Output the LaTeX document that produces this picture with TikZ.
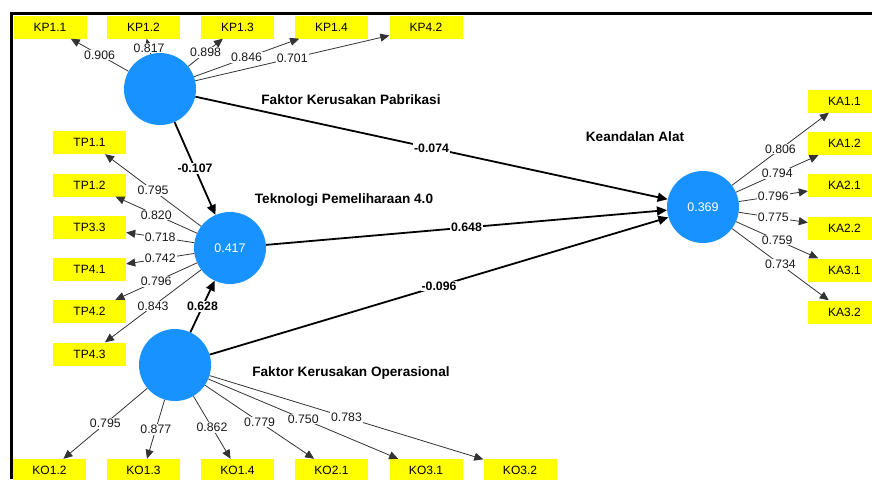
\documentclass[tikz,border=0pt]{standalone}
\usepackage{fontspec}
\setmainfont{Liberation Sans}
\usepackage{tikz}
\usetikzlibrary{arrows.meta}
\definecolor{lvblue}{RGB}{24,146,255}
\definecolor{indyellow}{RGB}{255,255,0}

\begin{document}
\begin{tikzpicture}[x=1pt, y=-1pt,
  lv/.style={circle, fill=lvblue, minimum size=72pt, inner sep=0pt,
             text=white, font=\fontsize{12.5}{14}\selectfont},
  ind/.style={rectangle, fill=indyellow, minimum width=73pt, minimum height=23pt,
              inner sep=0pt, font=\fontsize{12}{14}\selectfont},
  lvname/.style={inner sep=0pt, font=\fontsize{13.6}{15}\selectfont\bfseries},
  loadarr/.style={-{Triangle[length=9pt, width=8pt]}, draw=black!80, line width=0.8pt},
  innerarr/.style={-{Triangle[length=10pt, width=9pt]}, draw=black, line width=1.8pt},
  ldlbl/.style={fill=white, inner sep=1pt, text=black!90, font=\fontsize{12.3}{14}\selectfont},
  coeflbl/.style={fill=white, inner sep=1pt, font=\fontsize{12.3}{14}\selectfont\bfseries}
]
\clip (0,0) rectangle (872,479);
\draw[line width=3pt] (11.5,479) -- (11.5,13.5) -- (872,13.5);

\node[lv] (kp) at (160,89)  {};
\node[lv] (tp) at (230,248) {0.417};
\node[lv] (ko) at (175,365) {};
\node[lv] (ka) at (703,207) {0.369};

\node[lvname] (kpname) at (351,100) {Faktor Kerusakan Pabrikasi};
\node[lvname] (tpname) at (344,200) {Teknologi Pemeliharaan 4.0};
\node[lvname] (koname) at (351,373) {Faktor Kerusakan Operasional};
\node[lvname] (kaname) at (635,137) {Keandalan Alat};

\node[ind] (kp11) at (50,27)    {KP1.1};
\node[ind] (kp12) at (143.5,27) {KP1.2};
\node[ind] (kp13) at (237.5,27) {KP1.3};
\node[ind] (kp14) at (331.5,27) {KP1.4};
\node[ind] (kp42) at (426,27)   {KP4.2};

\node[ind] (tp11) at (89.5,142.5) {TP1.1};
\node[ind] (tp12) at (89.5,185)   {TP1.2};
\node[ind] (tp33) at (89.5,227)   {TP3.3};
\node[ind] (tp41) at (89.5,269.5) {TP4.1};
\node[ind] (tp42) at (89.5,311.5) {TP4.2};
\node[ind] (tp43) at (89.5,354)   {TP4.3};

\node[ind] (ko12) at (49.5,470.5)  {KO1.2};
\node[ind] (ko13) at (143.5,470.5) {KO1.3};
\node[ind] (ko14) at (237.5,470.5) {KO1.4};
\node[ind] (ko21) at (331.5,470.5) {KO2.1};
\node[ind] (ko31) at (426,470.5)   {KO3.1};
\node[ind] (ko32) at (520,470.5)   {KO3.2};

\node[ind] (ka11) at (844.5,101)   {KA1.1};
\node[ind] (ka12) at (844.5,143.5) {KA1.2};
\node[ind] (ka21) at (844.5,185.5) {KA2.1};
\node[ind] (ka22) at (844.5,228)   {KA2.2};
\node[ind] (ka31) at (844.5,270)   {KA3.1};
\node[ind] (ka32) at (844.5,312)   {KA3.2};

\draw[loadarr] (kp) -- node[ldlbl] {0.906} (kp11);
\draw[loadarr] (kp) -- node[ldlbl, pos=0.4] {0.817} (kp12);
\draw[loadarr] (kp) -- node[ldlbl] {0.898} (kp13);
\draw[loadarr] (kp) -- node[ldlbl] {0.846} (kp14);
\draw[loadarr] (kp) -- node[ldlbl] {0.701} (kp42);

\draw[loadarr] (tp) -- node[ldlbl] {0.795} (tp11);
\draw[loadarr] (tp) -- node[ldlbl] {0.820} (tp12);
\draw[loadarr] (tp) -- node[ldlbl] {0.718} (tp33);
\draw[loadarr] (tp) -- node[ldlbl] {0.742} (tp41);
\draw[loadarr] (tp) -- node[ldlbl] {0.796} (tp42);
\draw[loadarr] (tp) -- node[ldlbl] {0.843} (tp43);

\draw[loadarr] (ko) -- node[ldlbl] {0.795} (ko12);
\draw[loadarr] (ko) -- node[ldlbl] {0.877} (ko13);
\draw[loadarr] (ko) -- node[ldlbl] {0.862} (ko14);
\draw[loadarr] (ko) -- node[ldlbl] {0.779} (ko21);
\draw[loadarr] (ko) -- node[ldlbl] {0.750} (ko31);
\draw[loadarr] (ko) -- node[ldlbl] {0.783} (ko32);

\draw[loadarr] (ka) -- node[ldlbl] {0.806} (ka11);
\draw[loadarr] (ka) -- node[ldlbl] {0.794} (ka12);
\draw[loadarr] (ka) -- node[ldlbl] {0.796} (ka21);
\draw[loadarr] (ka) -- node[ldlbl] {0.775} (ka22);
\draw[loadarr] (ka) -- node[ldlbl] {0.759} (ka31);
\draw[loadarr] (ka) -- node[ldlbl] {0.734} (ka32);

\draw[innerarr] (kp) -- node[coeflbl] {-0.107} (tp);
\draw[innerarr] (kp) -- node[coeflbl] {-0.074} (ka);
\draw[innerarr] (tp) -- node[coeflbl] {0.648} (ka);
\draw[innerarr] (ko) -- node[coeflbl] {-0.096} (ka);
\draw[innerarr] (ko) -- node[coeflbl] {0.628} (tp);
\end{tikzpicture}
\end{document}
